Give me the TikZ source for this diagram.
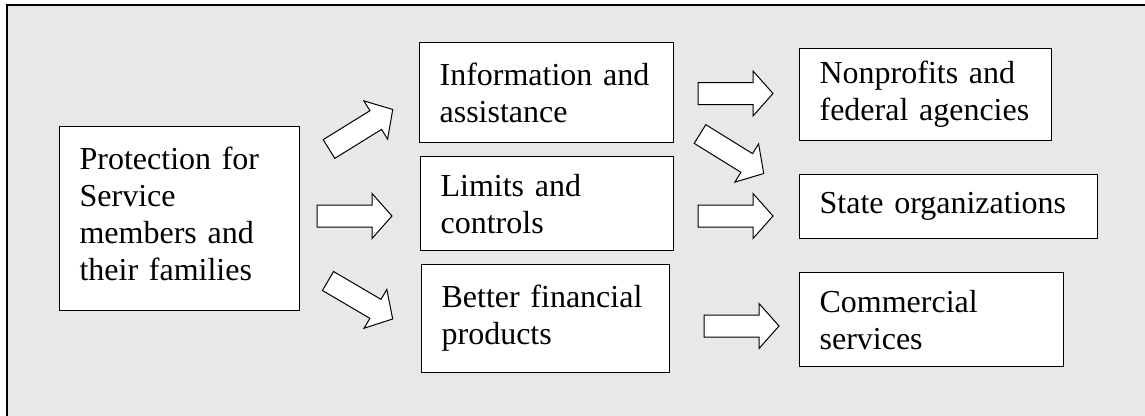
\documentclass[tikz,border=0pt]{standalone}
\usepackage{fontspec}
\setmainfont{Liberation Serif}
\definecolor{bggray}{RGB}{232,232,232}
\tikzset{
  box/.style={draw=black, line width=1.2pt, fill=white, anchor=north west,
    inner xsep=20pt, inner ysep=0pt, align=left,
    font=\fontsize{32}{37}\selectfont},
  arrowline/.style={draw=black, line width=1pt, fill=white, line join=miter},
  blockarrow/.pic={\path[arrowline] (0,-11) -- (55,-11) -- (55,-22.5) -- (75,0) -- (55,22.5) -- (55,11) -- (0,11) -- cycle;}
}
\begin{document}
\begin{tikzpicture}[x=1pt,y=-1pt]
\useasboundingbox (0,0) rectangle (1145,415);
\clip (0,0) rectangle (1145,415);
\draw[line width=1.3pt, fill=bggray] (7,5) rectangle (1170,440);

\node[box, minimum width=240pt, minimum height=184pt, text width=200pt] (prot) at (59,126)
  {Protection for\\Service\\members and\\their families\rule[-10pt]{0pt}{10pt}};
\node[box, minimum width=254pt, minimum height=100pt, text width=214pt] (info) at (419,42)
  {Information and\\assistance};
\node[box, minimum width=253pt, minimum height=94pt, text width=213pt] (lim) at (420,156)
  {Limits and\\controls};
\node[box, minimum width=248pt, minimum height=108pt, text width=208pt] (better) at (421,264)
  {Better financial\\products};
\node[box, minimum width=250pt, minimum height=92pt, text width=212pt] (nonp) at (799,48)
  {Nonprofits and\\federal agencies};
\node[box, minimum width=298pt, minimum height=64pt, text width=258pt] (state) at (799,174)
  {State organizations};
\node[box, minimum width=264pt, minimum height=94pt, text width=224pt] (comm) at (799,272)
  {Commercial\\services};

\pic[rotate=31.8] at (329,149) {blockarrow};
\pic at (317,216) {blockarrow};
\pic[rotate=-30.4] at (328,281) {blockarrow};
\pic at (698,93.5) {blockarrow};
\pic[rotate=-31.8] at (700,134) {blockarrow};
\pic at (698,216) {blockarrow};
\pic at (704,326) {blockarrow};
\end{tikzpicture}
\end{document}
